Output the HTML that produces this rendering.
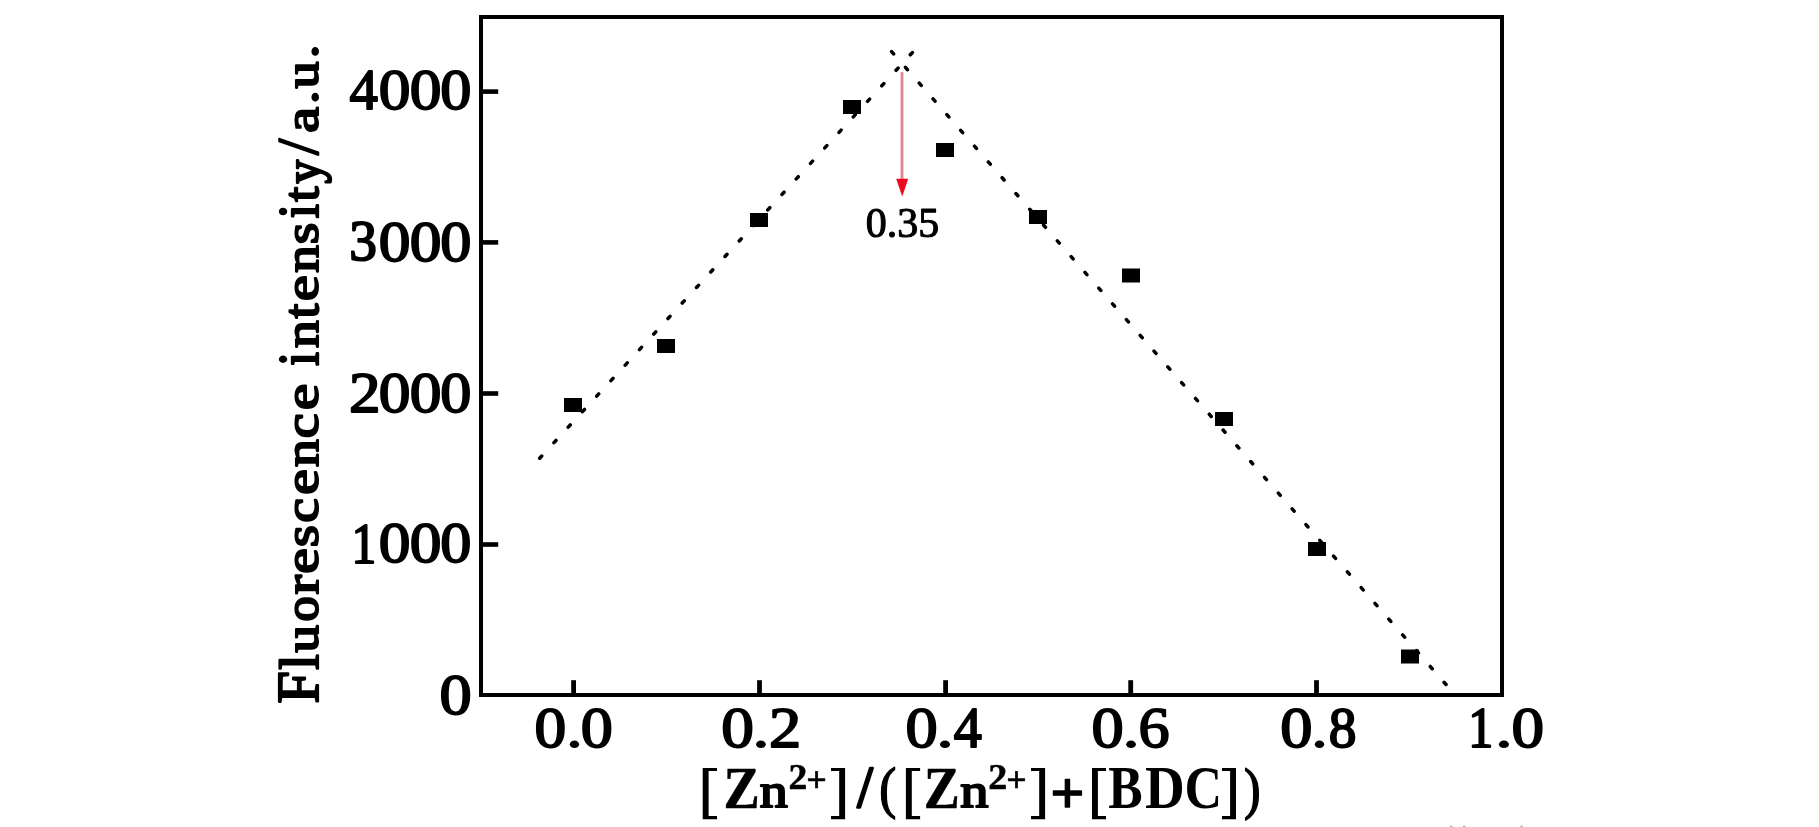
<!DOCTYPE html>
<html>
<head>
<meta charset="utf-8">
<title>Job plot</title>
<style>
  html, body { margin: 0; padding: 0; background: #ffffff; }
  body { width: 1819px; height: 827px; overflow: hidden; font-family: "Liberation Serif", serif; }
  svg { display: block; will-change: transform; }
  text { font-family: "Liberation Serif", serif; fill: #000; }
  .b { font-weight: bold; font-size: 100px; }
  .r { font-weight: normal; font-size: 100px; }
</style>
</head>
<body>
<svg width="1819" height="827" viewBox="0 0 1819 827">
  <rect x="0" y="0" width="1819" height="827" fill="#ffffff"/>

  <!-- plot frame -->
  <rect x="481" y="17" width="1021" height="678" fill="none" stroke="#000" stroke-width="4"/>

  <!-- y ticks -->
  <g fill="#000">
    <rect x="483" y="89.3" width="15.2" height="4.6"/>
    <rect x="483" y="240.1" width="15.2" height="4.6"/>
    <rect x="483" y="391.2" width="15.2" height="4.6"/>
    <rect x="483" y="542.2" width="15.2" height="4.6"/>
  </g>
  <!-- x ticks -->
  <g fill="#000">
    <rect x="571.2" y="680.2" width="4.8" height="13"/>
    <rect x="757.1" y="680.2" width="4.8" height="13"/>
    <rect x="943.2" y="680.2" width="4.8" height="13"/>
    <rect x="1128.3" y="680.2" width="4.8" height="13"/>
    <rect x="1314.1" y="680.2" width="4.8" height="13"/>
  </g>

  <!-- dotted fit lines -->
  <g fill="none" stroke="#000" stroke-width="3.5" stroke-linecap="round">
    <line id="l1" x1="539.7" y1="458.2" x2="913.5" y2="51.3" stroke-dasharray="3 18.07"/>
    <line id="l2" x1="891.6" y1="51.6" x2="1447" y2="685.6" stroke-dasharray="3 17.96"/>
  </g>

  <!-- data points -->
  <g fill="#000">
    <rect x="564" y="398" width="18" height="14"/>
    <rect x="657" y="339" width="18" height="14"/>
    <rect x="750" y="213" width="18" height="14"/>
    <rect x="843" y="100" width="18" height="14"/>
    <rect x="936" y="143" width="18" height="14"/>
    <rect x="1029" y="210" width="18" height="14"/>
    <rect x="1122" y="268.5" width="18" height="14"/>
    <rect x="1215" y="412" width="18" height="14"/>
    <rect x="1308" y="542" width="18" height="14"/>
    <rect x="1401" y="649.5" width="18" height="14"/>
  </g>

  <!-- faint clipped marks at bottom edge -->
  <g fill="#a8a8a8">
    <rect x="1450" y="825.7" width="2.4" height="1.3"/>
    <rect x="1463" y="825.7" width="2.4" height="1.3"/>
    <rect x="1520.4" y="825.7" width="2.4" height="1.3"/>
  </g>

  <!-- red arrow -->
  <line x1="902" y1="72.2" x2="902" y2="181" stroke="#df8796" stroke-width="2.9"/>
  <polygon points="896.2,178.7 908.2,178.7 902.2,196.4" fill="#ee0a1e"/>
  <text x="902.5" y="236.5" text-anchor="middle" style="font-size:42px;font-weight:normal;stroke:#000;stroke-width:1.1;stroke-linejoin:round">0.35</text>

  <!-- y tick labels -->
  <g id="ylabels">
    <text class="r" style="stroke:#000;stroke-width:3.34;stroke-linejoin:round" transform="translate(349.44,109.45) scale(0.5679,0.5682)">4</text>
    <text class="r" style="stroke:#000;stroke-width:3.17;stroke-linejoin:round" transform="translate(378.63,109.40) scale(0.6347,0.5676)">0</text>
    <text class="r" style="stroke:#000;stroke-width:3.17;stroke-linejoin:round" transform="translate(409.63,109.40) scale(0.6347,0.5676)">0</text>
    <text class="r" style="stroke:#000;stroke-width:3.20;stroke-linejoin:round" transform="translate(440.18,109.40) scale(0.6229,0.5676)">0</text>
    <text class="r" style="stroke:#000;stroke-width:3.38;stroke-linejoin:round" transform="translate(349.20,260.49) scale(0.5544,0.5700)">3</text>
    <text class="r" style="stroke:#000;stroke-width:3.17;stroke-linejoin:round" transform="translate(378.63,260.50) scale(0.6347,0.5676)">0</text>
    <text class="r" style="stroke:#000;stroke-width:3.17;stroke-linejoin:round" transform="translate(409.63,260.50) scale(0.6347,0.5676)">0</text>
    <text class="r" style="stroke:#000;stroke-width:3.20;stroke-linejoin:round" transform="translate(440.18,260.50) scale(0.6229,0.5676)">0</text>
    <text class="r" style="stroke:#000;stroke-width:3.18;stroke-linejoin:round" transform="translate(348.88,411.65) scale(0.6311,0.5649)">2</text>
    <text class="r" style="stroke:#000;stroke-width:3.17;stroke-linejoin:round" transform="translate(378.63,411.60) scale(0.6347,0.5676)">0</text>
    <text class="r" style="stroke:#000;stroke-width:3.17;stroke-linejoin:round" transform="translate(409.63,411.60) scale(0.6347,0.5676)">0</text>
    <text class="r" style="stroke:#000;stroke-width:3.20;stroke-linejoin:round" transform="translate(440.18,411.60) scale(0.6229,0.5676)">0</text>
    <text class="r" style="stroke:#000;stroke-width:3.59;stroke-linejoin:round" transform="translate(351.41,562.55) scale(0.4942,0.5680)">1</text>
    <text class="r" style="stroke:#000;stroke-width:3.16;stroke-linejoin:round" transform="translate(378.63,562.49) scale(0.6347,0.5691)">0</text>
    <text class="r" style="stroke:#000;stroke-width:3.16;stroke-linejoin:round" transform="translate(409.63,562.49) scale(0.6347,0.5691)">0</text>
    <text class="r" style="stroke:#000;stroke-width:3.19;stroke-linejoin:round" transform="translate(440.18,562.49) scale(0.6229,0.5691)">0</text>
    <text class="r" style="stroke:#000;stroke-width:3.13;stroke-linejoin:round" transform="translate(439.50,714.09) scale(0.6441,0.5705)">0</text>
  </g>
  <!-- x tick labels -->
  <g id="xlabels">
    <text class="r" style="stroke:#000;stroke-width:3.16;stroke-linejoin:round" transform="translate(534.43,746.69) scale(0.6347,0.5705)">0</text>
    <ellipse cx="574.45" cy="744.30" rx="4.65" ry="3.70"/>
    <text class="r" style="stroke:#000;stroke-width:3.14;stroke-linejoin:round" transform="translate(580.71,746.69) scale(0.6418,0.5705)">0</text>
    <text class="r" style="stroke:#000;stroke-width:3.11;stroke-linejoin:round" transform="translate(721.26,746.69) scale(0.6536,0.5705)">0</text>
    <ellipse cx="760.95" cy="744.30" rx="4.85" ry="3.70"/>
    <text class="r" style="stroke:#000;stroke-width:3.14;stroke-linejoin:round" transform="translate(769.02,746.75) scale(0.6436,0.5679)">2</text>
    <text class="r" style="stroke:#000;stroke-width:3.13;stroke-linejoin:round" transform="translate(905.50,746.69) scale(0.6441,0.5705)">0</text>
    <ellipse cx="945.00" cy="744.30" rx="5.00" ry="3.70"/>
    <text class="r" style="stroke:#000;stroke-width:3.35;stroke-linejoin:round" transform="translate(953.85,746.75) scale(0.5615,0.5713)">4</text>
    <text class="r" style="stroke:#000;stroke-width:3.13;stroke-linejoin:round" transform="translate(1091.40,746.69) scale(0.6441,0.5705)">0</text>
    <ellipse cx="1131.05" cy="744.30" rx="4.85" ry="3.70"/>
    <text class="r" style="stroke:#000;stroke-width:3.19;stroke-linejoin:round" transform="translate(1138.48,746.69) scale(0.6203,0.5730)">6</text>
    <text class="r" style="stroke:#000;stroke-width:3.13;stroke-linejoin:round" transform="translate(1280.30,746.69) scale(0.6441,0.5705)">0</text>
    <ellipse cx="1319.50" cy="744.30" rx="4.70" ry="3.70"/>
    <text class="r" style="stroke:#000;stroke-width:3.38;stroke-linejoin:round" transform="translate(1328.74,746.69) scale(0.5545,0.5705)">8</text>
    <text class="r" style="stroke:#000;stroke-width:3.56;stroke-linejoin:round" transform="translate(1468.26,746.75) scale(0.4999,0.5696)">1</text>
    <ellipse cx="1503.90" cy="744.30" rx="5.00" ry="3.70"/>
    <text class="r" style="stroke:#000;stroke-width:3.12;stroke-linejoin:round" transform="translate(1511.57,746.69) scale(0.6512,0.5705)">0</text>
  </g>
  <!-- x axis title -->
  <g id="xtitle">
    <path d="M702.70 767.90H717.00V771.10H708.60V816.10H717.00V819.30H702.70Z"/>
    <text class="b" style="stroke:#000;stroke-width:0.87;stroke-linejoin:round" transform="translate(723.55,807.75) scale(0.5437,0.6017)">Z</text>
    <text class="r" style="stroke:#000;stroke-width:4.21;stroke-linejoin:round" transform="translate(759.71,806.90) scale(0.5607,0.4860)">n</text>
    <text class="b" style="stroke:#000;stroke-width:1.37;stroke-linejoin:round" transform="translate(788.47,788.75) scale(0.3759,0.3549)">2</text>
    <text class="b" style="stroke:#000;stroke-width:1.40;stroke-linejoin:round" transform="translate(806.14,792.06) scale(0.3614,0.3542)">+</text>
    <path d="M845.10 767.90H831.00V771.10H839.20V816.10H831.00V819.30H845.10Z"/>
    <text class="r" style="stroke:#000;stroke-width:4.21;stroke-linejoin:round" transform="translate(857.20,806.53) scale(0.5579,0.5815)">/</text>
    <text class="r" style="stroke:#000;stroke-width:2.59;stroke-linejoin:round" transform="translate(879.16,807.29) scale(0.5101,0.5735)">(</text>
    <path d="M905.90 767.90H920.10V771.10H911.80V816.10H920.10V819.30H905.90Z"/>
    <text class="b" style="stroke:#000;stroke-width:0.88;stroke-linejoin:round" transform="translate(923.67,807.75) scale(0.5402,0.6017)">Z</text>
    <text class="r" style="stroke:#000;stroke-width:4.20;stroke-linejoin:round" transform="translate(960.20,806.90) scale(0.5650,0.4860)">n</text>
    <text class="b" style="stroke:#000;stroke-width:1.36;stroke-linejoin:round" transform="translate(988.25,788.75) scale(0.3807,0.3549)">2</text>
    <text class="b" style="stroke:#000;stroke-width:1.40;stroke-linejoin:round" transform="translate(1006.26,792.06) scale(0.3593,0.3542)">+</text>
    <path d="M1045.10 767.90H1031.00V771.10H1039.20V816.10H1031.00V819.30H1045.10Z"/>
    <text class="b" style="stroke:#000;stroke-width:2.17;stroke-linejoin:round" transform="translate(1050.37,813.24) scale(0.6024,0.5946)">+</text>
    <path d="M1092.00 767.90H1106.00V771.10H1097.90V816.10H1106.00V819.30H1092.00Z"/>
    <text class="b" transform="translate(1108.24,807.82) scale(0.5156,0.6066)">B</text>
    <text class="b" transform="translate(1144.93,807.88) scale(0.5505,0.6075)">D</text>
    <text class="b" transform="translate(1184.46,807.90) scale(0.5208,0.6147)">C</text>
    <path d="M1236.00 767.90H1222.00V771.10H1230.10V816.10H1222.00V819.30H1236.00Z"/>
    <text class="r" style="stroke:#000;stroke-width:2.60;stroke-linejoin:round" transform="translate(1243.89,807.75) scale(0.4984,0.5801)">)</text>
  </g>
  <!-- y axis title -->
  <g id="ytitle" transform="translate(319.1,703.0) rotate(-90)">
    <text class="r" style="stroke:#000;stroke-width:3.77;stroke-linejoin:round" transform="translate(-0.48,-1.10) scale(0.5822,0.5849)">F</text>
    <text class="r" style="stroke:#000;stroke-width:3.96;stroke-linejoin:round" transform="translate(33.29,-1.10) scale(0.5551,0.5563)">l</text>
    <text class="r" style="stroke:#000;stroke-width:4.23;stroke-linejoin:round" transform="translate(50.58,-1.18) scale(0.5493,0.4928)">u</text>
    <text class="r" style="stroke:#000;stroke-width:4.41;stroke-linejoin:round" transform="translate(81.58,-1.18) scale(0.5049,0.4928)">o</text>
    <text class="r" style="stroke:#000;stroke-width:4.09;stroke-linejoin:round" transform="translate(108.53,-1.10) scale(0.5851,0.4945)">r</text>
    <text class="r" style="stroke:#000;stroke-width:4.12;stroke-linejoin:round" transform="translate(129.14,-1.18) scale(0.5782,0.4928)">e</text>
    <text class="r" style="stroke:#000;stroke-width:4.15;stroke-linejoin:round" transform="translate(155.76,-1.18) scale(0.5705,0.4928)">s</text>
    <text class="r" style="stroke:#000;stroke-width:4.21;stroke-linejoin:round" transform="translate(180.29,-1.18) scale(0.5547,0.4928)">c</text>
    <text class="r" style="stroke:#000;stroke-width:4.12;stroke-linejoin:round" transform="translate(208.14,-1.18) scale(0.5782,0.4928)">e</text>
    <text class="r" style="stroke:#000;stroke-width:4.20;stroke-linejoin:round" transform="translate(236.03,-1.10) scale(0.5542,0.4945)">n</text>
    <text class="r" style="stroke:#000;stroke-width:4.19;stroke-linejoin:round" transform="translate(264.87,-1.18) scale(0.5600,0.4928)">c</text>
    <text class="r" style="stroke:#000;stroke-width:4.07;stroke-linejoin:round" transform="translate(292.89,-1.18) scale(0.5917,0.4928)">e</text>
    <text class="r" style="stroke:#000;stroke-width:4.19;stroke-linejoin:round" transform="translate(337.27,-1.10) scale(0.4920,0.5603)">i</text>
    <text class="r" style="stroke:#000;stroke-width:4.20;stroke-linejoin:round" transform="translate(355.03,-1.10) scale(0.5542,0.4945)">n</text>
    <text class="r" style="stroke:#000;stroke-width:4.21;stroke-linejoin:round" transform="translate(384.48,-1.20) scale(0.5339,0.5116)">t</text>
    <text class="r" style="stroke:#000;stroke-width:4.11;stroke-linejoin:round" transform="translate(402.03,-1.18) scale(0.5809,0.4928)">e</text>
    <text class="r" style="stroke:#000;stroke-width:4.21;stroke-linejoin:round" transform="translate(430.33,-1.10) scale(0.5521,0.4945)">n</text>
    <text class="r" style="stroke:#000;stroke-width:4.20;stroke-linejoin:round" transform="translate(458.81,-1.18) scale(0.5577,0.4928)">s</text>
    <text class="r" style="stroke:#000;stroke-width:4.10;stroke-linejoin:round" transform="translate(484.72,-1.10) scale(0.5131,0.5603)">i</text>
    <text class="r" style="stroke:#000;stroke-width:4.17;stroke-linejoin:round" transform="translate(501.17,-1.20) scale(0.5454,0.5116)">t</text>
    <text class="r" style="stroke:#000;stroke-width:4.46;stroke-linejoin:round" transform="translate(519.42,0.87) scale(0.4712,0.5157)">y</text>
    <text class="r" style="stroke:#000;stroke-width:2.50;stroke-linejoin:round" transform="translate(547.75,-1.04) scale(0.6011,0.6009)">/</text>
    <text class="r" style="stroke:#000;stroke-width:4.11;stroke-linejoin:round" transform="translate(570.15,-1.18) scale(0.5822,0.4927)">a</text>
    <text class="b" transform="translate(598.91,-0.36) scale(0.5428,0.4627)">.</text>
    <text class="r" style="stroke:#000;stroke-width:4.25;stroke-linejoin:round" transform="translate(614.58,-1.18) scale(0.5429,0.4928)">u</text>
    <text class="b" transform="translate(644.69,-0.36) scale(0.5490,0.4627)">.</text>
  </g>
</svg>
</body>
</html>
